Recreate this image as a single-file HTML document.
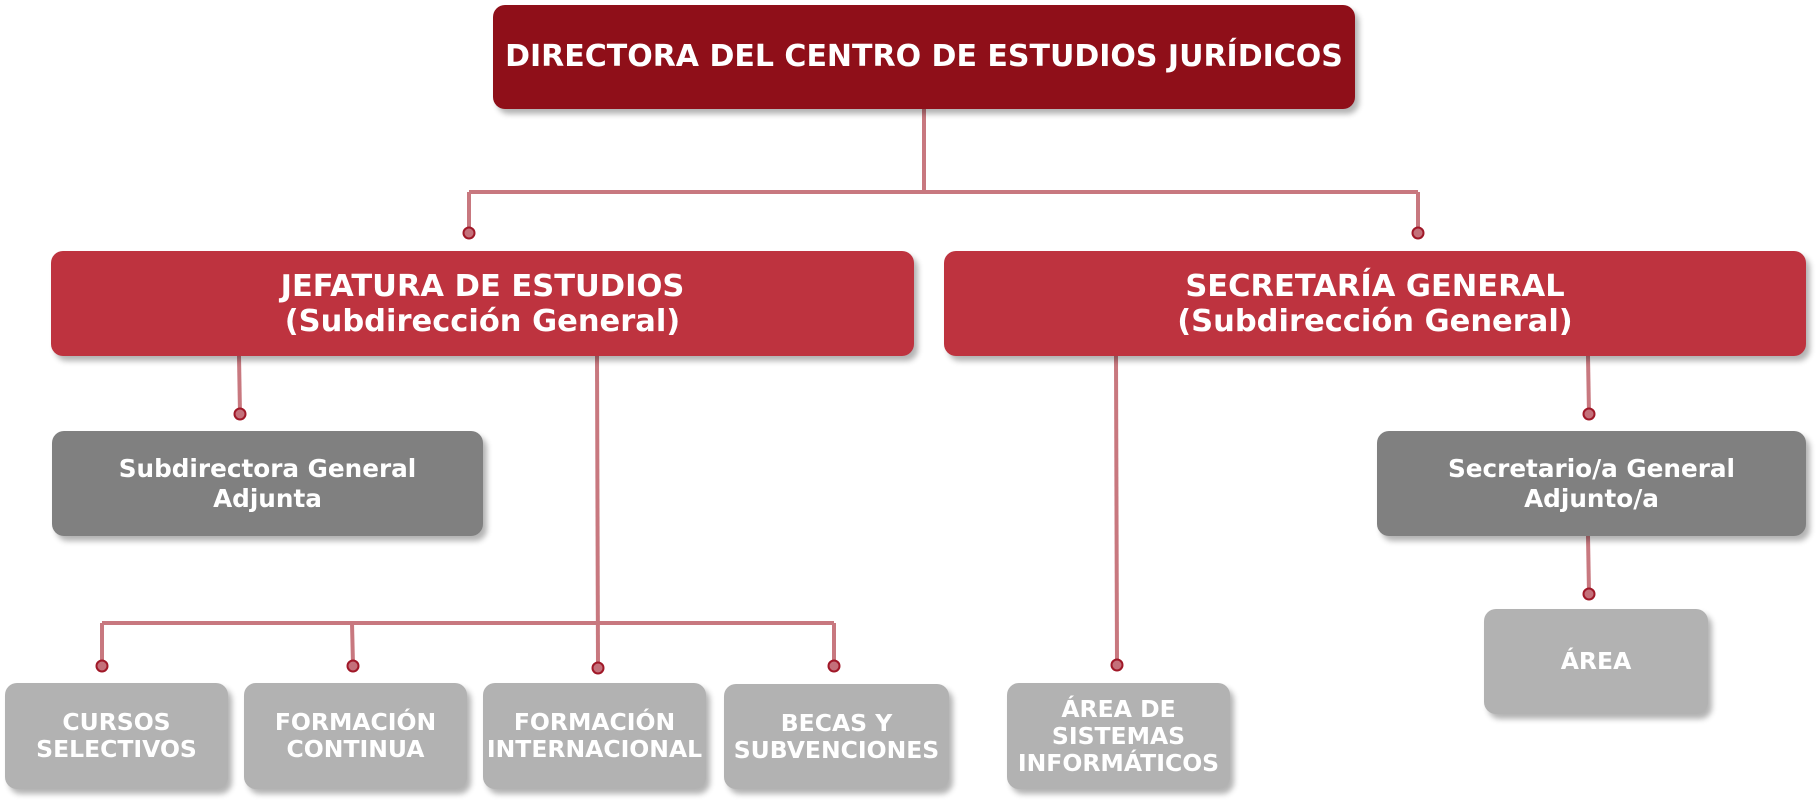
<!DOCTYPE html>
<html><head><meta charset="utf-8"><style>
body{margin:0;width:1820px;height:802px;background:#fff;position:relative;overflow:hidden;font-family:"DejaVu Sans","Liberation Sans",sans-serif;font-weight:bold;color:#fff}
.b{position:absolute;display:flex;align-items:center;justify-content:center;text-align:center;border-radius:12px;box-shadow:4px 5px 6px rgba(0,0,0,0.3);line-height:1.2;white-space:nowrap}
.top{background:#8F0F19;font-size:30px}
.red{background:#BE333F;font-size:30.5px;line-height:35px}
.dg{background:#808080;font-size:24.7px;line-height:30px}
.lg{background:#B2B2B2;font-size:23.5px;line-height:27px}
svg{position:absolute;left:0;top:0}
</style></head><body>
<svg width="1820" height="802">
<g stroke="#C8787F" stroke-width="4" fill="none">
<line x1="924" y1="109" x2="924" y2="192"/>
<line x1="469" y1="192" x2="1418" y2="192"/>
<line x1="469" y1="192" x2="469" y2="232"/>
<line x1="1418" y1="192" x2="1418" y2="232"/>
<line x1="239" y1="356" x2="240" y2="414"/>
<line x1="597" y1="356" x2="598" y2="667"/>
<line x1="102" y1="623" x2="834" y2="623"/>
<line x1="102" y1="623" x2="102" y2="665"/>
<line x1="352" y1="623" x2="353" y2="665"/>
<line x1="834" y1="623" x2="834" y2="665"/>
<line x1="1116" y1="356" x2="1117" y2="664"/>
<line x1="1588" y1="356" x2="1589" y2="414"/>
<line x1="1588" y1="536" x2="1589" y2="593"/>
</g>
<g fill="#C4707A" stroke="#A01828" stroke-width="2">
<circle cx="469" cy="233" r="5.5"/><circle cx="1418" cy="233" r="5.5"/>
<circle cx="240" cy="414" r="5.5"/><circle cx="1589" cy="414" r="5.5"/>
<circle cx="1589" cy="594" r="5.5"/>
<circle cx="102" cy="666" r="5.5"/><circle cx="353" cy="666" r="5.5"/>
<circle cx="598" cy="668" r="5.5"/><circle cx="834" cy="666" r="5.5"/>
<circle cx="1117" cy="665" r="5.5"/>
</g>
</svg>
<div class="b top" style="left:493px;top:5px;width:862px;height:104px">DIRECTORA DEL CENTRO DE ESTUDIOS JURÍDICOS</div>
<div class="b red" style="left:51px;top:251px;width:863px;height:105px">JEFATURA DE ESTUDIOS<br>(Subdirección General)</div>
<div class="b red" style="left:944px;top:251px;width:862px;height:105px">SECRETARÍA GENERAL<br>(Subdirección General)</div>
<div class="b dg" style="left:52px;top:431px;width:431px;height:105px">Subdirectora General<br>Adjunta</div>
<div class="b dg" style="left:1377px;top:431px;width:429px;height:105px">Secretario/a General<br>Adjunto/a</div>
<div class="b lg" style="left:1484px;top:609px;width:224px;height:105px">ÁREA</div>
<div class="b lg" style="left:5px;top:683px;width:223px;height:106px">CURSOS<br>SELECTIVOS</div>
<div class="b lg" style="left:244px;top:683px;width:223px;height:106px">FORMACIÓN<br>CONTINUA</div>
<div class="b lg" style="left:483px;top:683px;width:223px;height:106px">FORMACIÓN<br>INTERNACIONAL</div>
<div class="b lg" style="left:724px;top:684px;width:225px;height:105px">BECAS Y<br>SUBVENCIONES</div>
<div class="b lg" style="left:1007px;top:683px;width:223px;height:106px">ÁREA DE<br>SISTEMAS<br>INFORMÁTICOS</div>
</body></html>
